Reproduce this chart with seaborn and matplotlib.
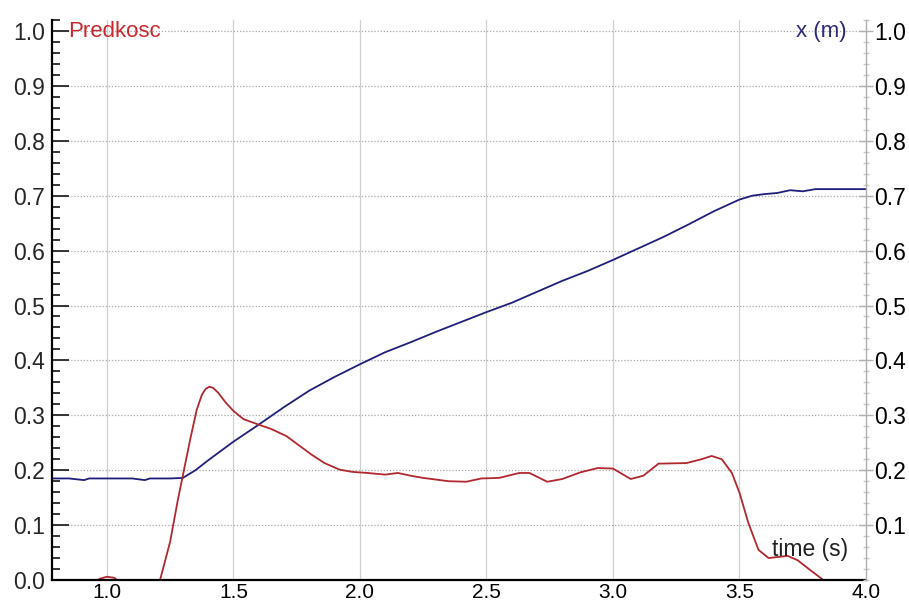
import pandas as pd
import matplotlib
matplotlib.use("Agg")
import matplotlib.pyplot as plt
import seaborn as sns
from matplotlib.ticker import MultipleLocator

# position x (m)
t_pos = [0.78, 0.85, 0.91, 0.93, 1.0, 1.1, 1.15, 1.17, 1.25, 1.3, 1.35, 1.4, 1.5, 1.6, 1.7, 1.8,
         1.9, 2.0, 2.1, 2.2, 2.3, 2.4, 2.5, 2.6, 2.7, 2.8, 2.9, 3.0, 3.1, 3.2, 3.3, 3.4,
         3.5, 3.55, 3.6, 3.65, 3.7, 3.75, 3.8, 3.9, 4.0]
x_pos = [0.185, 0.185, 0.182, 0.185, 0.185, 0.185, 0.182, 0.185, 0.185, 0.186, 0.200, 0.218,
         0.252, 0.283, 0.315, 0.345, 0.370, 0.393, 0.415, 0.433, 0.452, 0.470, 0.488, 0.505,
         0.525, 0.545, 0.563, 0.583, 0.604, 0.625, 0.648, 0.672, 0.693, 0.700, 0.703, 0.705,
         0.710, 0.708, 0.712, 0.712, 0.712]

# velocity "Predkosc"
t_vel = [0.78, 0.95, 0.97, 1.0, 1.03, 1.05, 1.1, 1.2, 1.21, 1.25, 1.28, 1.3, 1.33, 1.355,
         1.375, 1.39, 1.405, 1.42, 1.44, 1.47, 1.5, 1.54, 1.6, 1.65, 1.71, 1.76, 1.81, 1.86,
         1.92, 1.97, 2.03, 2.1, 2.15, 2.2, 2.25, 2.35, 2.42, 2.48, 2.55, 2.63, 2.67, 2.74,
         2.8, 2.87, 2.94, 3.0, 3.07, 3.12, 3.18, 3.29, 3.35, 3.39, 3.43, 3.47, 3.5, 3.535,
         3.575, 3.615, 3.69, 3.73, 3.78, 3.82, 3.86, 4.0]
v_vel = [-0.03, -0.01, 0.002, 0.006, 0.004, -0.005, -0.03, -0.01, 0.0, 0.07, 0.145, 0.19,
         0.258, 0.31, 0.337, 0.348, 0.352, 0.35, 0.341, 0.323, 0.308, 0.293, 0.283, 0.275,
         0.262, 0.245, 0.228, 0.213, 0.201, 0.197, 0.195, 0.192, 0.195, 0.19, 0.186, 0.18,
         0.179, 0.185, 0.186, 0.195, 0.195, 0.179, 0.184, 0.196, 0.204, 0.203, 0.184, 0.19,
         0.212, 0.213, 0.22, 0.226, 0.22, 0.195, 0.159, 0.104, 0.055, 0.04, 0.044, 0.036,
         0.018, 0.004, -0.01, -0.05]

df_pos = pd.DataFrame({"t": t_pos, "val": x_pos})
df_vel = pd.DataFrame({"t": t_vel, "val": v_vel})

sns.set_style("white")
plt.rcParams["font.family"] = ["Liberation Sans", "DejaVu Sans"]

fig = plt.figure(figsize=(9.09, 6.03), dpi=100)
ax = fig.add_axes([0.0572, 0.0381, 0.8955, 0.9287])

sns.lineplot(data=df_pos, x="t", y="val", ax=ax, color="#1f1f7a", lw=1.3, estimator=None)
sns.lineplot(data=df_vel, x="t", y="val", ax=ax, color="#b02830", lw=1.3, estimator=None)

ax.set_xlim(0.783, 4.0)
ax.set_ylim(0, 1.02)
ax.set_xlabel("")
ax.set_ylabel("")

ax.xaxis.set_major_locator(MultipleLocator(0.5))
ax.xaxis.set_minor_locator(MultipleLocator(0.1))
ax.yaxis.set_minor_locator(MultipleLocator(0.02))

ax.grid(False)
for xv in [1.0, 1.5, 2.0, 2.5, 3.0, 3.5]:
    ax.axvline(xv, color="#d0d0d0", lw=0.9, zorder=0)
for yv in [0.1 * i for i in range(1, 11)]:
    ax.axhline(yv, color="#aaaaaa", lw=0.9, ls=(0, (1, 1.5)), zorder=0)

ax.tick_params(axis="x", which="major", direction="in", length=14, width=1.3,
               labelsize=15, pad=2, colors="black")
ax.tick_params(axis="x", which="minor", direction="in", length=8, width=1.3)
ax.tick_params(axis="y", which="major", direction="in", length=12, width=1.3,
               labelsize=16.5, pad=5)
ax.tick_params(axis="y", which="minor", direction="in", length=6, width=1.3)
ax.set_xticks([1.0, 1.5, 2.0, 2.5, 3.0, 3.5, 4.0])
ax.set_xticklabels([f"{v:.1f}" for v in [1.0, 1.5, 2.0, 2.5, 3.0, 3.5, 4.0]])
ax.set_yticks([0.1 * i for i in range(11)])
ax.set_yticklabels([f"{0.1 * i:.1f}" for i in range(11)])

for side in ["left", "bottom"]:
    ax.spines[side].set_color("black")
    ax.spines[side].set_linewidth(1.6)
ax.spines["top"].set_visible(False)
ax.spines["right"].set_visible(False)

ax2 = ax.twinx()
ax2.set_ylim(0, 1.02)
ax2.set_yticks([0.1 * i for i in range(1, 11)])
ax2.set_yticklabels([f"{0.1 * i:.1f}" for i in range(1, 11)])
ax2.yaxis.set_minor_locator(MultipleLocator(0.02))
ax2.tick_params(axis="y", which="major", direction="inout", length=10, width=1.0,
                color="#b0b0b0", labelcolor="black", labelsize=16.5, pad=1)
ax2.tick_params(axis="y", which="minor", direction="inout", length=5, width=1.0,
                color="#c8c8c8")
for side in ["left", "bottom", "top"]:
    ax2.spines[side].set_visible(False)
ax2.spines["right"].set_color("#b0b0b0")
ax2.spines["right"].set_linewidth(1.0)
ax2.grid(False)

ax.text(0.846, 1.0, "Predkosc", color="#c8282e", fontsize=16, ha="left", va="center")
ax.text(3.922, 1.0, "x (m)", color="#2a2a7a", fontsize=16, ha="right", va="center")
ax.text(3.93, 0.055, "time (s)", color="#222222", fontsize=16.5, ha="right", va="center")

fig.savefig("out.png", dpi=100)
